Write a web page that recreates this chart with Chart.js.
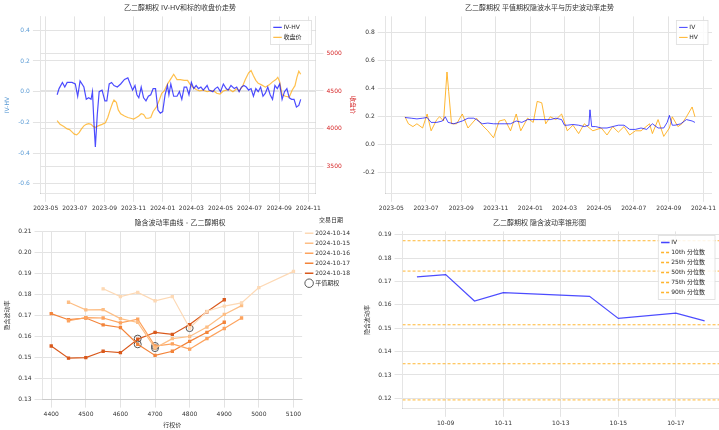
<!DOCTYPE html>
<html><head><meta charset="utf-8">
<script src="https://cdn.jsdelivr.net/npm/chart.js@4"></script>
<style>
body{margin:0;background:#fff;width:719px;height:430px;position:relative;overflow:hidden}
canvas{position:absolute}
</style></head><body>
<canvas id="c1" width="360" height="215" style="left:0;top:0"></canvas>
<canvas id="c2" width="359" height="215" style="left:360px;top:0"></canvas>
<canvas id="c3" width="360" height="215" style="left:0;top:215px"></canvas>
<canvas id="c4" width="359" height="215" style="left:360px;top:215px"></canvas>
<script>
// 日期以 2023-05-01 为第 0 天
const monthTicks = [0, 61, 123, 184, 245, 305, 366, 427, 489, 550];
const monthLabels = ["2023-05","2023-07","2023-09","2023-11","2024-01","2024-03","2024-05","2024-07","2024-09","2024-11"];

const ivhvDays = [24,28,35,40,45,55,62,67,72,80,85,90,95,98,101,104,108,112,118,124,128,133,138,143,150,157,165,172,177,182,187,191,195,200,205,210,215,220,225,230,235,240,245,250,255,258,262,268,275,280,285,290,295,300,305,310,315,320,325,330,338,342,350,355,360,366,372,378,382,388,395,400,405,410,415,420,425,430,435,440,445,450,455,460,465,470,475,480,485,490,495,500,505,510,515,520,525,530,534];
const ivhv = [-0.02,0.02,0.06,0.03,0.06,0.06,0.05,-0.03,0.07,0.03,-0.05,-0.04,-0.05,0.0,-0.2,-0.36,-0.15,0.0,0.01,-0.06,-0.06,0.05,0.06,0.04,0.03,0.05,0.08,0.09,0.05,0.01,0.04,-0.02,-0.04,0.03,-0.04,-0.06,-0.03,-0.02,0.02,0.02,-0.12,-0.14,-0.13,-0.02,0.04,-0.02,0.05,-0.03,-0.03,0.0,-0.05,0.03,0.03,-0.02,0.06,0.02,0.04,0.02,0.03,0.01,0.04,0.01,0.0,0.02,0.03,0.0,0.05,0.02,0.01,0.04,0.02,0.03,0.0,0.03,0.04,0.03,0.01,0.02,-0.03,0.02,0.0,0.03,-0.03,-0.01,0.03,-0.02,-0.05,0.04,0.02,0.05,-0.05,0.0,0.02,-0.04,-0.05,-0.05,-0.10,-0.09,-0.05];

const closeDays = [24,30,38,45,50,55,60,65,70,75,80,85,90,95,100,105,110,118,125,130,135,140,143,148,152,157,165,172,178,184,190,195,200,205,210,215,220,225,232,238,243,248,255,262,268,275,282,290,297,302,308,315,322,330,338,345,352,358,365,372,378,385,392,400,405,412,418,425,430,435,440,445,452,460,468,475,482,486,490,495,502,510,516,522,526,530,534];
const closePrice = [4110,4060,4030,4000,3990,3960,3930,3920,3950,4000,4040,4060,4070,4060,4030,4020,4040,4060,4080,4150,4250,4340,4380,4350,4250,4200,4170,4150,4140,4130,4150,4170,4200,4190,4140,4140,4150,4230,4290,4380,4470,4500,4590,4660,4720,4650,4650,4640,4640,4590,4550,4520,4500,4510,4490,4500,4500,4470,4460,4500,4510,4520,4490,4530,4500,4560,4650,4740,4770,4700,4640,4600,4580,4550,4580,4620,4650,4680,4620,4450,4430,4420,4510,4570,4680,4760,4720];

const ivDays = [24,35,45,55,63,70,80,90,95,100,110,125,135,145,150,160,170,180,190,200,210,220,230,240,250,260,270,280,290,300,305,310,320,330,340,348,350,353,360,370,380,390,400,410,420,430,440,450,460,470,480,486,490,495,500,510,520,530,535];
const ivSeries = [0.195,0.19,0.185,0.19,0.195,0.16,0.16,0.17,0.2,0.16,0.15,0.17,0.19,0.19,0.18,0.15,0.155,0.15,0.15,0.15,0.15,0.17,0.16,0.18,0.18,0.18,0.18,0.18,0.19,0.18,0.14,0.14,0.145,0.14,0.13,0.14,0.25,0.13,0.13,0.12,0.12,0.13,0.14,0.14,0.11,0.11,0.12,0.11,0.15,0.12,0.12,0.16,0.21,0.14,0.14,0.15,0.18,0.17,0.16];
const hvDays = [24,30,38,45,55,63,70,80,85,92,98,101,106,115,125,135,150,160,170,180,190,200,210,220,228,240,250,257,265,272,280,290,300,310,320,330,340,355,370,380,390,400,410,420,430,440,455,460,470,480,490,495,505,512,520,530,535];
const hvSeries = [0.2,0.15,0.13,0.15,0.12,0.22,0.1,0.18,0.2,0.17,0.52,0.38,0.15,0.15,0.22,0.12,0.19,0.14,0.1,0.05,0.17,0.18,0.1,0.22,0.1,0.19,0.16,0.31,0.3,0.15,0.2,0.18,0.22,0.1,0.14,0.08,0.15,0.1,0.12,0.07,0.13,0.09,0.13,0.07,0.1,0.1,0.15,0.08,0.18,0.06,0.12,0.2,0.13,0.15,0.2,0.27,0.2];

const strikes = [4400,4450,4500,4550,4600,4650,4700,4750,4800,4850,4900,4950,5000,5050,5100];
const smileDates = ["2024-10-14","2024-10-15","2024-10-16","2024-10-17","2024-10-18"];
const smile1014 = [null,null,null,0.1827,0.179,0.181,0.177,0.179,0.164,0.172,0.1745,0.176,0.1833,null,0.191];
const smile1015 = [null,0.1763,0.1727,0.1728,0.1685,0.1667,0.1545,0.159,0.160,0.1645,0.1705,0.1747,null,null,null];
const smile1016 = [null,0.1675,0.169,0.1688,0.1665,0.1683,0.1555,0.1565,0.154,0.159,0.1638,0.1688,null,null,null];
const smile1017 = [0.1709,0.168,0.1688,0.1655,0.1643,0.1563,0.151,0.153,0.1577,0.162,0.1668,null,null,null,null];
const smile1018 = [0.1555,0.1497,0.150,0.153,0.1523,0.1587,0.162,0.161,0.1657,0.1718,0.1775,null,null,null,null];
const atmStrike = [4800,4700,4700,4650,4650];
const atmIV = [0.164,0.1545,0.1555,0.1563,0.159];

const coneDays = [8,9,10,11,14,15,17,18];
const coneIV = [0.172,0.173,0.1617,0.1653,0.1637,0.1542,0.1565,0.1532];
const coneTicks = [9,11,13,15,17];
const quantLabels = ["10th 分位数","25th 分位数","50th 分位数","75th 分位数","90th 分位数"];
const quantValues = [0.1193,0.1348,0.1515,0.1745,0.1875];

Chart.defaults.font.family = "'DejaVu Sans','Noto Sans CJK SC',sans-serif";
Chart.defaults.font.size = 6;
Chart.defaults.color = "#333";
Chart.defaults.animation = false;
const grid = {color: "#e3e3e3"};
const titleFont = {size: 7, weight: "normal"};

// 把 chartArea 图例移到绘图区右上角，加白底边框后重画
const legendTopRight = {
  id: "legendTopRight",
  afterLayout(chart) {
    const l = chart.legend;
    if (!l || l.options.position !== "chartArea") return;
    const w = l.width;
    const n = chart.data.datasets.length;
    const h = n * 10 + 4;
    l.right = chart.chartArea.right - 4; l.left = l.right - w;
    l.top = chart.chartArea.top + 4; l.bottom = l.top + h; l.height = h;
  },
  afterDatasetsDraw(chart) {
    const l = chart.legend;
    if (!l || l.options.position !== "chartArea") return;
    const c = chart.ctx;
    c.save();
    c.fillStyle = "rgba(255,255,255,0.85)"; c.strokeStyle = "#ddd"; c.lineWidth = 0.8;
    c.fillRect(l.left, l.top, l.width, l.height); c.strokeRect(l.left, l.top, l.width, l.height);
    c.restore();
    l.draw();
  }
};
Chart.register(legendTopRight);

function dateAxis() {
  return {
    type: "linear", min: -10, max: 565, grid,
    afterBuildTicks: ax => { ax.ticks = monthTicks.map(v => ({value: v})); },
    ticks: {callback: v => monthLabels[monthTicks.indexOf(v)], maxRotation: 0}
  };
}
const pts = (xs, ys) => xs.map((x, i) => ({x, y: ys[i]}));
const lineLegend = {labels: {usePointStyle: true, pointStyle: "line", boxWidth: 14, padding: 4, font: {size: 6}}};

new Chart(document.getElementById("c1"), {
  type: "line",
  data: {datasets: [
    {label: "IV-HV", data: pts(ivhvDays, ivhv), borderColor: "rgba(0,0,255,0.7)", borderWidth: 1.2, pointRadius: 0, yAxisID: "y"},
    {label: "收盘价", data: pts(closeDays, closePrice), borderColor: "rgba(255,165,0,0.7)", borderWidth: 1.2, pointRadius: 0, yAxisID: "y1"}
  ]},
  options: {
    responsive: false,
    plugins: {title: {display: true, text: "乙二醇期权 IV-HV和标的收盘价走势", font: titleFont, padding: 4}, legend: {position: "chartArea", align: "start", ...lineLegend}},
    scales: {
      x: dateAxis(),
      y: {min: -0.665, max: 0.49, grid, afterBuildTicks: ax => { ax.ticks = [-0.6,-0.4,-0.2,0,0.2,0.4].map(v => ({value: v})); },
          ticks: {color: "#5b9bd5", callback: v => v.toFixed(1)}, title: {display: true, text: "IV-HV", color: "#5b9bd5", font: {size: 6}}},
      y1: {position: "right", min: 3144, max: 5483, grid, afterBuildTicks: ax => { ax.ticks = [3500,4000,4500,5000].map(v => ({value: v})); },
          ticks: {color: "#d62728", callback: v => String(v)}, title: {display: true, text: "收盘价", color: "#d62728", font: {size: 6}}}
    }
  }
});

new Chart(document.getElementById("c2"), {
  type: "line",
  data: {datasets: [
    {label: "IV", data: pts(ivDays, ivSeries), borderColor: "rgba(0,0,255,0.7)", borderWidth: 1, pointRadius: 0},
    {label: "HV", data: pts(hvDays, hvSeries), borderColor: "rgba(255,165,0,0.8)", borderWidth: 1, pointRadius: 0}
  ]},
  options: {
    responsive: false,
    plugins: {title: {display: true, text: "乙二醇期权 平值期权隐波水平与历史波动率走势", font: titleFont, padding: 4}, legend: {position: "chartArea", align: "start", ...lineLegend}},
    scales: {
      x: dateAxis(),
      y: {min: -0.35, max: 0.917, grid, afterBuildTicks: ax => { ax.ticks = [-0.2,0,0.2,0.4,0.6,0.8].map(v => ({value: v})); },
          ticks: {callback: v => v.toFixed(1)}}
    }
  }
});

const oranges = ["#fdd9b5", "#fdbe85", "#fda35e", "#f3843a", "#d9591c"];
const smileSets = [smile1014, smile1015, smile1016, smile1017, smile1018].map((s, i) => ({
  label: smileDates[i], data: pts(strikes, s), borderColor: oranges[i], backgroundColor: oranges[i],
  borderWidth: 1.2, pointRadius: 1.5, pointStyle: "rect", spanGaps: true
}));
smileSets.push({type: "scatter", label: "平值期权", data: pts(atmStrike, atmIV), pointRadius: 3.5, borderColor: "#555", backgroundColor: "rgba(0,0,0,0)", borderWidth: 1});
new Chart(document.getElementById("c3"), {
  type: "line",
  data: {datasets: smileSets},
  options: {
    responsive: false,
    plugins: {
      title: {display: true, text: "隐含波动率曲线 - 乙二醇期权", font: titleFont, padding: 4},
      legend: {position: "right", align: "start", title: {display: true, text: "交易日期", font: {size: 6}, padding: 2},
        labels: {usePointStyle: true, boxWidth: 12, font: {size: 6}, padding: 4,
          generateLabels: ch => ch.data.datasets.map((d, i) => ({text: d.label, datasetIndex: i, fontColor: "#333",
            strokeStyle: d.borderColor, fillStyle: "rgba(0,0,0,0)", lineWidth: i < 5 ? 1.5 : 1, pointStyle: i < 5 ? "line" : "circle"}))}}
    },
    scales: {
      x: {type: "linear", min: 4375, max: 5125, grid, afterBuildTicks: ax => { ax.ticks = [4400,4500,4600,4700,4800,4900,5000,5100].map(v => ({value: v})); },
          ticks: {callback: v => String(v)}, title: {display: true, text: "行权价", font: {size: 6}, padding: 1}},
      y: {min: 0.13, max: 0.21, grid, ticks: {stepSize: 0.01, callback: v => v.toFixed(2)},
          title: {display: true, text: "隐含波动率", font: {size: 6}}}
    }
  }
});

const coneSets = [{label: "IV", data: pts(coneDays, coneIV), borderColor: "rgba(0,0,255,0.7)", borderWidth: 1.2, pointRadius: 0}];
quantValues.forEach((q, i) => coneSets.push({label: quantLabels[i], data: [{x: 7.5, y: q}, {x: 18.5, y: q}],
  borderColor: "rgba(255,165,0,0.8)", borderDash: [3, 2], borderWidth: 1, pointRadius: 0}));
new Chart(document.getElementById("c4"), {
  type: "line",
  data: {datasets: coneSets},
  options: {
    responsive: false,
    plugins: {title: {display: true, text: "乙二醇期权 隐含波动率锥形图", font: titleFont, padding: 4},
      legend: {position: "chartArea", align: "start", labels: {...lineLegend.labels,
        generateLabels: ch => ch.data.datasets.map((d, i) => ({text: d.label, datasetIndex: i, fontColor: "#333",
          strokeStyle: d.borderColor, fillStyle: d.borderColor, lineWidth: 1.5, lineDash: d.borderDash || [], pointStyle: "line"}))}}},
    scales: {
      x: {type: "linear", min: 7.5, max: 18.5, grid, afterBuildTicks: ax => { ax.ticks = coneTicks.map(v => ({value: v})); },
          ticks: {callback: v => "10-" + String(v).padStart(2, "0")}},
      y: {min: 0.1155, max: 0.1915, grid, afterBuildTicks: ax => { ax.ticks = [0.12,0.13,0.14,0.15,0.16,0.17,0.18,0.19].map(v => ({value: v})); },
          ticks: {callback: v => v.toFixed(2)}, title: {display: true, text: "隐含波动率", font: {size: 6}}}
    }
  }
});
</script></body></html>
